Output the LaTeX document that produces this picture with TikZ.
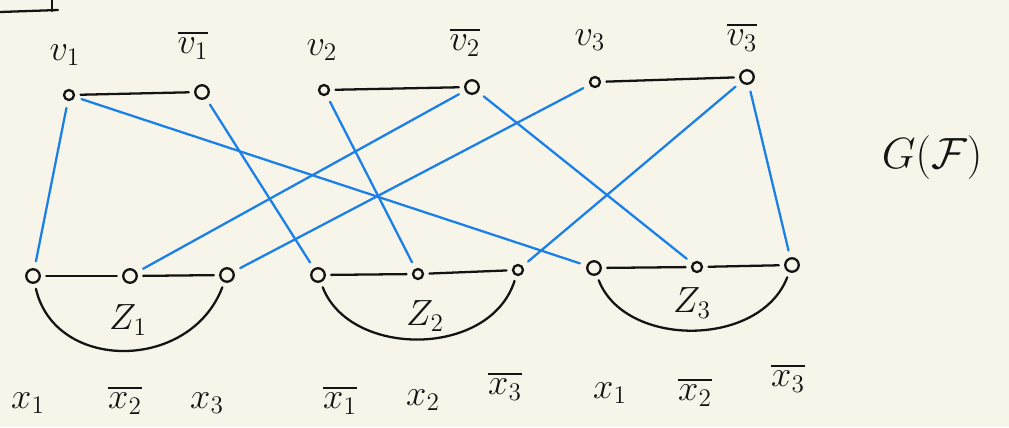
\documentclass[tikz,border=0pt]{standalone}
\usepackage{amsmath}
\definecolor{paper}{RGB}{247,245,234}
\definecolor{ink}{RGB}{20,20,20}
\definecolor{wire}{RGB}{26,128,232}
\begin{document}
\begin{tikzpicture}[x=0.02cm,y=-0.02cm,
  vtx/.style={circle,draw=ink,line width=1.3pt,inner sep=0pt,minimum size=0.27cm},
  svtx/.style={circle,draw=ink,line width=1.3pt,inner sep=0pt,minimum size=0.2cm},
  blk/.style={draw=ink,line width=1.3pt,line cap=round,shorten <=3pt,shorten >=3pt},
  blu/.style={draw=wire,line width=1.3pt,line cap=round,shorten <=4pt,shorten >=4pt},
  lab/.style={font=\fontsize{22}{26}\selectfont,text=ink,inner sep=0pt}]
\fill[paper] (0,0) rectangle (1009,427);
\useasboundingbox (0,0) rectangle (1009,427);
% top-left fragment
\coordinate (f1) at (0,12);
\coordinate (f2) at (58,10);
\coordinate (f3) at (52,0);
\draw[ink,line width=1.3pt,line cap=round] (f1) -- (f2);
\draw[ink,line width=1.3pt,line cap=round] (f3) -- (52,11);
% top vertices
\node[svtx] (v1) at (69,95) {};
\node[vtx] (nv1) at (202,92) {};
\node[svtx] (v2) at (324,90) {};
\node[vtx] (nv2) at (472,87) {};
\node[svtx] (v3) at (595,82) {};
\node[vtx] (nv3) at (747,77) {};
% top labels
\node[lab] (lv1) at (65,55) {$v_1$};
\node[lab] (lnv1) at (193,45) {$\overline{v_1}$};
\node[lab] (lv2) at (322,50) {$v_2$};
\node[lab] (lnv2) at (465,42) {$\overline{v_2}$};
\node[lab] (lv3) at (590,40) {$v_3$};
\node[lab] (lnv3) at (742,37) {$\overline{v_3}$};
% bottom vertices
\node[vtx] (a1) at (33,276) {};
\node[vtx] (a2) at (130,276) {};
\node[vtx] (a3) at (227,275) {};
\node[vtx] (b1) at (318,275) {};
\node[svtx] (b2) at (418,274) {};
\node[svtx] (b3) at (518,270) {};
\node[vtx] (c1) at (594,268) {};
\node[svtx] (c2) at (697,267) {};
\node[vtx] (c3) at (792,265) {};
% clause labels
\node[lab] (z1) at (128,320) {$Z_1$};
\node[lab] (z2) at (425,316) {$Z_2$};
\node[lab] (z3) at (692,303) {$Z_3$};
% literal labels
\node[lab] (x11) at (28,403) {$x_1$};
\node[lab] (x12) at (125,400) {$\overline{x_2}$};
\node[lab] (x13) at (207,403) {$x_3$};
\node[lab] (x21) at (340,400) {$\overline{x_1}$};
\node[lab] (x22) at (423,400) {$x_2$};
\node[lab] (x23) at (505,386) {$\overline{x_3}$};
\node[lab] (x31) at (610,393) {$x_1$};
\node[lab] (x32) at (695,392) {$\overline{x_2}$};
\node[lab] (x33) at (788,378) {$\overline{x_3}$};
% title
\node[font=\fontsize{48}{56}\selectfont,text=ink,inner sep=0pt] (g) at (932,158) {$G(\mathcal{F})$};
% black edges
\draw[blk] (v1) -- (nv1);
\draw[blk] (v2) -- (nv2);
\draw[blk] (v3) -- (nv3);
\draw[blk] (a1) -- (a2);
\draw[blk] (a2) -- (a3);
\draw[blk] (b1) -- (b2);
\draw[blk] (b2) -- (b3);
\draw[blk] (c1) -- (c2);
\draw[blk] (c2) -- (c3);
\draw[blk] (a1) .. controls (55,372) and (190,372) .. (a3);
\draw[blk] (b1) .. controls (350,358) and (490,358) .. (b3);
\draw[blk] (c1) .. controls (625,348) and (760,348) .. (c3);
% blue edges
\draw[blu] (v1) -- (a1);
\draw[blu] (v1) -- (c1);
\draw[blu] (nv1) -- (b1);
\draw[blu] (v2) -- (b2);
\draw[blu] (nv2) -- (a2);
\draw[blu] (nv2) -- (c2);
\draw[blu] (v3) -- (a3);
\draw[blu] (nv3) -- (b3);
\draw[blu] (nv3) -- (c3);
\end{tikzpicture}
\end{document}
